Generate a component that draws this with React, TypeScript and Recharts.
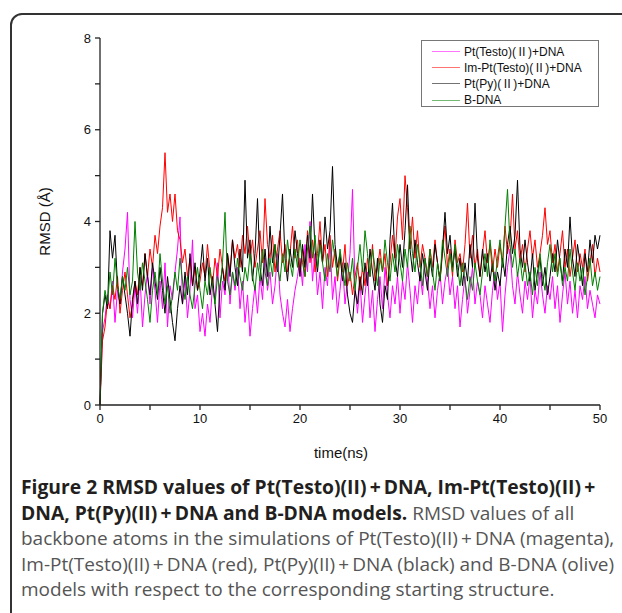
import React from 'react';
import { LineChart, Line, XAxis, YAxis, Legend, Label } from 'recharts';

const STEP_NS = 0.25;

const ptTesto = [
  0, 1.6, 1.9, 2.4, 2.1, 2.7, 1.8, 2.5, 2.2, 2.9, 3.4, 4.2, 2.3, 1.9, 2.6, 2.0, 2.8, 1.7, 2.4, 2.9,
  2.2, 3.0, 2.5, 1.8, 2.7, 2.1, 3.1, 1.7, 2.6, 2.3, 2.9, 3.4, 4.1, 2.2, 2.8, 1.9, 2.5, 3.6, 2.1, 2.4,
  1.6, 2.0, 1.5, 2.2, 1.8, 2.6, 2.3, 3.1, 1.9, 2.7, 2.4, 3.3, 2.2, 2.9, 2.5, 3.0, 2.1, 2.7, 1.8, 2.4,
  1.5, 2.1, 2.6, 2.0, 2.8, 2.3, 3.2, 2.5, 2.9, 2.2, 2.6, 3.3, 2.4, 2.0, 1.7, 2.3, 1.6, 2.1, 2.5, 2.8,
  3.2, 2.6, 3.5, 2.9, 4.0, 2.7, 3.3, 2.4, 2.9, 2.1, 3.0, 2.6, 3.6, 2.3, 2.8, 2.0, 2.5, 3.1, 2.2, 2.7,
  3.3, 4.7, 2.6, 2.0, 2.7, 1.8, 2.4, 2.9, 1.9, 2.5, 1.6, 2.3, 2.8, 2.1, 3.0, 2.4, 1.9, 2.6, 2.2, 2.8,
  2.0, 2.7, 2.3, 3.1, 2.5, 1.8, 2.6, 2.2, 2.9, 2.4, 3.2, 2.7, 2.1, 2.6, 1.9, 2.5, 2.9, 2.2, 2.7, 3.0,
  2.4, 2.8, 2.1, 2.6, 1.7, 2.3, 2.8, 2.0, 2.5, 3.0, 2.2, 2.7, 2.4, 1.9, 2.6, 2.2, 1.8, 2.5, 2.9, 2.3,
  2.7, 1.6, 2.4, 3.0, 3.4, 2.6, 2.2, 2.9, 2.4, 2.0, 2.7, 2.3, 2.8, 1.9, 2.5, 2.2, 2.9, 2.4, 2.0, 2.6,
  2.3, 2.8, 2.1, 2.6, 1.8, 2.4, 2.9, 2.2, 2.7, 2.0, 2.5, 1.9, 2.6, 2.3, 2.8, 2.1, 2.5, 2.2, 1.9, 2.4,
  2.2,
];

const imPtTesto = [
  0, 1.4, 1.7, 2.3, 2.1, 2.6, 2.3, 2.8, 2.0, 2.5, 2.9, 2.4, 1.9, 2.2, 2.7, 2.4, 3.0, 2.6, 3.3, 2.8,
  3.4, 3.0, 3.7, 3.3, 3.9, 4.3, 5.5, 4.2, 4.6, 4.0, 4.6, 3.8, 3.6, 3.1, 3.4, 2.8, 3.2, 2.6, 3.0, 2.5,
  2.7, 3.1, 2.8, 3.5, 2.9, 2.6, 3.2, 2.8, 3.4, 3.0, 2.7, 3.3, 2.9, 3.6, 3.2, 3.5, 3.0, 3.7, 3.3, 3.9,
  3.2, 3.6, 3.0, 3.4, 3.8, 3.1, 4.5, 3.5, 3.2, 3.7, 2.9, 3.4, 3.8, 3.1, 3.5, 2.9, 3.3, 3.9, 3.2, 3.6,
  2.9, 3.4, 2.8, 3.8, 3.1, 3.6, 2.9, 3.3, 4.0, 3.1, 3.5, 2.8, 3.7, 3.0, 3.4, 2.7, 3.2, 2.9, 3.5, 2.6,
  2.9, 2.4, 2.8, 3.1, 2.5, 3.0, 2.6, 3.2, 2.8, 3.5, 2.7, 3.0, 3.4, 2.9, 3.3, 2.6, 3.1, 3.7, 3.2, 4.1,
  4.5, 3.6, 5.0, 4.3, 3.4, 4.1, 3.2, 3.8, 3.0, 3.5, 3.2, 2.8, 3.4, 3.0, 3.6, 3.1, 2.7, 3.3, 3.9, 3.0,
  3.4, 2.8, 3.6, 3.1, 3.3, 2.9, 3.5, 4.4, 3.2, 3.7, 3.0, 3.4, 2.8, 3.3, 3.8, 3.1, 3.5, 2.9, 3.4, 3.0,
  3.5, 3.1, 3.9, 3.3, 3.6, 4.6, 3.4, 3.8, 3.1, 3.5, 2.9, 3.4, 3.8, 3.2, 3.6, 3.0, 3.3, 3.7, 4.3, 3.5,
  3.8, 3.1, 3.5, 2.9, 3.3, 3.8, 3.0, 3.4, 2.8, 3.2, 3.6, 2.9, 3.3, 3.0, 3.4, 2.7, 3.1, 3.5, 2.8, 3.2,
  2.9,
];

const ptPy = [
  0, 2.0, 2.4, 2.1, 3.8, 3.2, 3.7, 2.6, 2.2, 2.8, 2.4, 2.0, 1.5, 2.3, 2.7, 2.2, 3.0, 2.5, 3.3, 2.8,
  2.4, 3.1, 2.7, 2.3, 3.0, 2.5, 2.0, 2.8, 2.3, 1.8, 1.4, 2.1, 2.6, 2.2, 2.9, 2.4, 3.3, 2.6, 3.1, 2.5,
  2.9, 3.5, 2.7, 3.2, 2.4, 2.8, 2.2, 1.6, 2.6, 3.0, 2.5, 3.3, 2.8, 3.6, 3.0, 2.6, 3.4, 2.9, 4.9, 3.2,
  3.6, 2.7, 3.3, 4.5, 3.0, 2.6, 3.4, 2.8, 3.9, 3.1, 3.5, 2.9, 3.7, 4.6, 3.2, 2.7, 3.4, 3.0, 3.8, 3.3,
  2.8, 3.5, 3.0, 3.7, 3.2, 4.6, 3.4, 2.9, 3.6, 3.1, 4.1, 3.4, 3.8, 5.2, 3.5, 3.0, 3.3, 2.7, 3.1, 2.4,
  2.0, 1.8, 2.5, 2.2, 2.8, 2.4, 3.1, 2.6, 3.4, 2.9, 2.5, 3.2, 2.2, 1.8, 2.6, 2.3, 3.6, 4.4, 3.2, 2.8,
  3.5, 3.0, 3.8, 4.8, 3.4, 2.9, 3.6, 3.1, 2.7, 3.3, 2.9, 2.5, 3.2, 2.8, 3.5, 3.1, 2.7, 3.4, 4.2, 3.3,
  3.7, 3.0, 3.4, 2.8, 3.2, 2.6, 3.1, 2.7, 3.5, 3.0, 4.4, 3.2, 2.8, 3.4, 2.9, 3.3, 2.7, 3.1, 2.5, 2.9,
  2.6, 3.2, 2.8, 3.5, 3.9, 3.3, 3.7, 4.9, 3.4, 3.0, 3.6, 3.1, 2.7, 3.3, 2.5, 2.9, 3.2, 2.6, 3.0, 2.4,
  2.8, 3.3, 2.9, 3.6, 3.1, 2.7, 3.4, 3.0, 4.1, 3.2, 2.8, 3.5, 3.1, 2.6, 3.3, 2.9, 3.6, 3.1, 3.7, 3.4,
  3.7,
];

const bDna = [
  0, 2.0, 2.5, 2.2, 2.9, 2.4, 3.2, 2.6, 2.3, 2.8, 2.5, 3.0, 2.4, 2.7, 4.0, 2.9, 2.5, 3.1, 2.7, 2.3,
  1.8, 2.5, 2.9, 2.4, 3.3, 2.7, 2.2, 2.6, 2.0, 2.4, 2.9, 2.5, 3.2, 2.7, 2.3, 2.8, 2.4, 2.1, 2.6, 3.0,
  2.5, 2.1, 2.7, 2.4, 3.0, 2.6, 2.2, 2.8, 2.5, 3.1, 4.2, 2.7, 2.4, 2.9, 2.6, 3.2, 2.8, 2.5, 3.0, 2.7,
  3.3, 2.8, 2.5, 3.1, 2.7, 3.4, 2.9, 2.6, 3.2, 2.8, 3.5, 3.0, 2.7, 3.3, 2.9, 3.6, 3.1, 2.8, 3.4, 3.0,
  3.6, 3.1, 2.8, 3.4, 3.9, 3.2, 3.7, 3.0, 3.5, 3.1, 2.7, 3.3, 2.9, 3.6, 3.2, 2.8, 3.4, 3.0, 2.6, 3.1,
  2.7, 3.2, 2.5, 3.0, 3.5, 2.9, 3.8, 3.3, 2.8, 3.4, 3.0, 2.6, 3.2, 2.9, 3.6, 3.1, 2.7, 3.3, 2.9, 3.5,
  3.1, 2.7, 3.4, 3.0, 3.9, 3.3, 2.9, 3.5, 3.1, 2.6, 3.2, 2.8, 3.4, 2.9, 2.5, 3.1, 2.7, 3.6, 3.2, 2.8,
  3.3, 2.9, 3.5, 3.0, 2.6, 3.1, 2.7, 2.3, 2.8, 2.5, 3.1, 2.7, 2.4, 2.9, 3.3, 2.8, 3.6, 3.1, 2.7, 3.2,
  3.6, 3.0, 3.9, 4.7, 3.5, 3.0, 3.4, 2.8, 3.2, 2.7, 3.1, 2.6, 2.9, 2.4, 3.0, 2.6, 3.3, 2.8, 2.5, 3.1,
  3.5, 2.9, 3.3, 2.8, 3.2, 2.6, 3.0, 2.7, 3.4, 2.9, 2.5, 3.1, 2.7, 3.0, 2.4, 2.8, 3.2, 2.6, 2.9, 2.5,
  2.8,
];

const xTicks = [0, 5, 10, 15, 20, 25, 30, 35, 40, 45, 50];
const yTicks = [0, 1, 2, 3, 4, 5, 6, 7, 8];

const series = [
  { key: 'ptTesto', name: 'Pt(Testo)(Ⅱ)+DNA', color: '#ff00ff', values: ptTesto },
  { key: 'imPtTesto', name: 'Im-Pt(Testo)(Ⅱ)+DNA', color: '#ff0000', values: imPtTesto },
  { key: 'ptPy', name: 'Pt(Py)(Ⅱ)+DNA', color: '#000000', values: ptPy },
  { key: 'bDna', name: 'B-DNA', color: '#008000', values: bDna },
];

const data = ptTesto.map((_, i) => {
  const row: Record<string, number> = { t: i * STEP_NS };
  series.forEach((s) => {
    row[s.key] = s.values[i];
  });
  return row;
});

const axisFont = { fontFamily: '"Liberation Sans", Arial, sans-serif', fontSize: 13, fill: '#111' };
const titleFont = { fontFamily: '"Liberation Sans", Arial, sans-serif', fontSize: 15, fill: '#111' };

// the roman numeral is set in the CJK font so it gets the wide, spaced look of the original
const legendName = (name: string) =>
  name.split('Ⅱ').map((part, i, arr) => (
    <React.Fragment key={i}>
      {part}
      {i < arr.length - 1 && <span style={{ fontFamily: '"Noto Sans CJK SC"' }}>Ⅱ</span>}
    </React.Fragment>
  ));

const LegendBox = () => (
  <div
    style={{
      width: 178,
      height: 67,
      border: '1px solid #777',
      background: '#fff',
      fontFamily: '"Liberation Sans", "Noto Sans CJK SC", sans-serif',
      fontSize: 12,
      color: '#111',
      paddingTop: 2,
      boxSizing: 'border-box',
    }}
  >
    {series.map((s) => (
      <div key={s.key} style={{ display: 'flex', alignItems: 'center', height: 16.3, lineHeight: '16px' }}>
        <span style={{ display: 'inline-block', width: 28, height: 1, background: s.color, marginLeft: 10, marginRight: 4, opacity: 0.55 }} />
        <span>{legendName(s.name)}</span>
      </div>
    ))}
  </div>
);

const captionLines = [
  { bold: 'Figure 2 RMSD values of Pt(Testo)(II)\u2009+\u2009DNA, Im-Pt(Testo)(II)\u2009+', rest: '' },
  { bold: 'DNA, Pt(Py)(II)\u2009+\u2009DNA and B-DNA models.', rest: ' RMSD values of all' },
  { bold: '', rest: 'backbone atoms in the simulations of Pt(Testo)(II)\u2009+\u2009DNA (magenta),' },
  { bold: '', rest: 'Im-Pt(Testo)(II)\u2009+\u2009DNA (red), Pt(Py)(II)\u2009+\u2009DNA (black) and B-DNA (olive)' },
  { bold: '', rest: 'models with respect to the corresponding starting structure.' },
];

export default function App() {
  return (
    <div style={{ position: 'absolute', left: 0, top: 0, width: 622, height: 613, overflow: 'hidden', background: '#fff' }}>
      <div
        style={{
          position: 'absolute',
          left: 10,
          top: 13,
          width: 700,
          height: 700,
          border: '2px solid #333',
          borderRadius: 12,
        }}
      />
      <div style={{ position: 'absolute', left: 0, top: 0 }}>
        <LineChart width={622} height={470} data={data} margin={{ top: 38, right: 22, left: 30, bottom: 15 }}>
          <XAxis
            dataKey="t"
            type="number"
            domain={[0, 50]}
            ticks={xTicks}
            tickFormatter={(v: number) => (v % 10 === 0 ? String(v) : '')}
            height={50}
            tickSize={5}
            tickMargin={4}
            stroke="#222"
            strokeWidth={1.3}
            tick={axisFont}
          >
            <Label
              content={({ viewBox }: any) => (
                <text x={viewBox.x + viewBox.width / 2 - 9} y={viewBox.y + 53} textAnchor="middle" style={titleFont}>
                  time(ns)
                </text>
              )}
            />
          </XAxis>
          <YAxis
            type="number"
            domain={[0, 8]}
            ticks={yTicks}
            tickFormatter={(v: number) => (v % 2 === 0 ? String(v) : '')}
            width={70}
            tickSize={5}
            tickMargin={4}
            stroke="#222"
            strokeWidth={1.3}
            tick={axisFont}
          >
            <Label
              content={({ viewBox }: any) => {
                const cx = viewBox.x + 20;
                const cy = viewBox.y + viewBox.height / 2;
                return (
                  <text x={cx} y={cy} transform={`rotate(-90 ${cx} ${cy})`} textAnchor="middle" style={titleFont}>
                    RMSD (Å)
                  </text>
                );
              }}
            />
          </YAxis>
          <Legend
            layout="vertical"
            align="center"
            verticalAlign="middle"
            wrapperStyle={{ position: 'absolute', top: 40, left: 421, width: 178 }}
            content={() => <LegendBox />}
          />
          {series.map((s) => (
            <Line
              key={s.key}
              type="linear"
              dataKey={s.key}
              name={s.name}
              stroke={s.color}
              strokeWidth={1}
              dot={false}
              isAnimationActive={false}
            />
          ))}
        </LineChart>
      </div>
      <div
        style={{
          position: 'absolute',
          left: 21,
          top: 474,
          fontFamily: '"Open Sans", sans-serif',
          fontSize: 19,
          lineHeight: '25.2px',
          color: '#555',
          whiteSpace: 'nowrap',
        }}
      >
        {captionLines.map((l, i) => (
          <div key={i}>
            {l.bold && <span style={{ fontWeight: 700, color: '#231f20', fontSize: 19.3 }}>{l.bold}</span>}
            {l.rest}
          </div>
        ))}
      </div>
    </div>
  );
}
